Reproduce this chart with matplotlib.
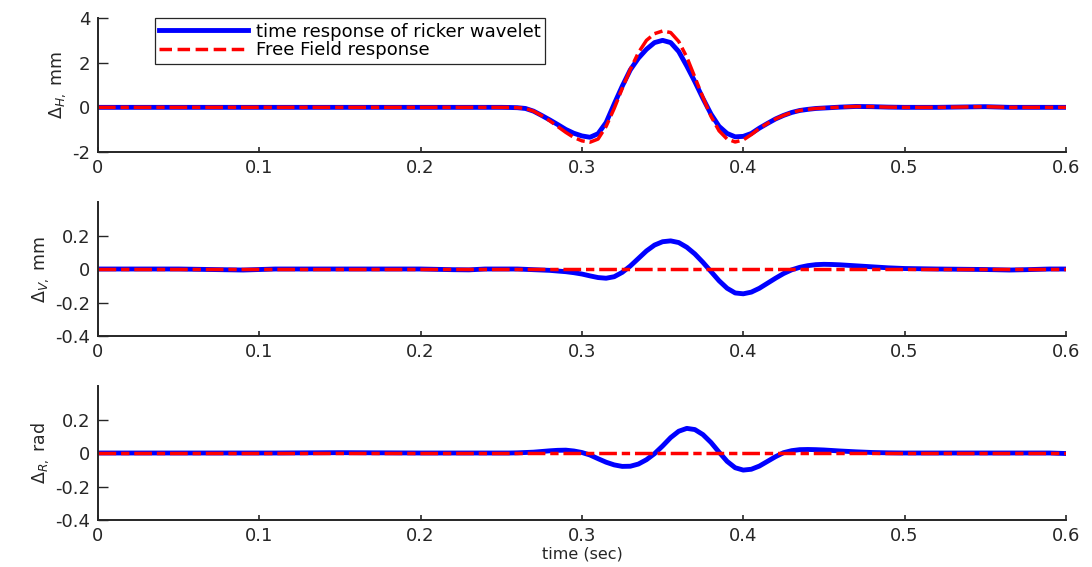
import matplotlib
matplotlib.use("Agg")
import matplotlib.pyplot as plt
from matplotlib.lines import Line2D
from matplotlib.ticker import FixedLocator, FixedFormatter

plt.rcParams["font.family"] = ["DejaVu Sans"]
plt.rcParams["mathtext.fontset"] = "dejavusans"
plt.rcParams["axes.unicode_minus"] = False

# ---- time axis (s) ----
t_sec = [0.00, 0.05, 0.09, 0.11, 0.15, 0.20, 0.22, 0.23, 0.24,
         0.250, 0.255, 0.260, 0.265, 0.270, 0.275, 0.280, 0.285, 0.290, 0.295,
         0.300, 0.305, 0.310, 0.315, 0.320, 0.325, 0.330, 0.335, 0.340, 0.345,
         0.350, 0.355, 0.360, 0.365, 0.370, 0.375, 0.380, 0.385, 0.390, 0.395,
         0.400, 0.405, 0.410, 0.415, 0.420, 0.425, 0.430, 0.435, 0.440, 0.445,
         0.450, 0.455, 0.460,
         0.470, 0.480, 0.490, 0.500, 0.520, 0.540, 0.550, 0.565, 0.575, 0.590, 0.600]

# ---- horizontal displacement (mm) ----
dh_wavelet = [0, 0, 0, 0, 0, 0, 0, 0, 0,
              0, -0.005, -0.015, -0.05, -0.17, -0.36, -0.56, -0.77, -0.99, -1.16,
              -1.28, -1.34, -1.18, -0.68, 0.15, 0.95, 1.68, 2.2, 2.6, 2.9,
              3.0, 2.9, 2.5, 1.85, 1.15, 0.4, -0.3, -0.85, -1.17, -1.32,
              -1.3, -1.17, -0.93, -0.72, -0.52, -0.36, -0.23, -0.14, -0.09, -0.05,
              -0.03, -0.01, 0.01,
              0.04, 0.03, 0.01, 0, 0, 0.02, 0.03, 0, 0, 0, 0]
dh_freefield = [0, 0, 0, 0, 0, 0, 0, 0, 0,
                0, -0.005, -0.015, -0.05, -0.17, -0.37, -0.6, -0.86, -1.12, -1.35,
                -1.5, -1.56, -1.42, -0.85, -0.05, 0.85, 1.7, 2.45, 3.0, 3.3,
                3.42, 3.35, 2.95, 2.25, 1.35, 0.45, -0.4, -1.05, -1.42, -1.55,
                -1.46, -1.22, -0.94, -0.72, -0.52, -0.36, -0.23, -0.14, -0.09, -0.05,
                -0.03, -0.01, 0.01,
                0.04, 0.03, 0.01, 0, 0, 0.02, 0.03, 0, 0, 0, 0]

# ---- vertical displacement (mm) ----
dv_wavelet = [0, 0, -0.006, 0, 0, 0, -0.004, -0.005, 0,
              0, 0, 0, -0.002, -0.004, -0.006, -0.008, -0.012, -0.016, -0.022,
              -0.03, -0.041, -0.051, -0.055, -0.046, -0.02, 0.018, 0.063, 0.108, 0.143,
              0.163, 0.168, 0.158, 0.13, 0.09, 0.04, -0.015, -0.07, -0.115, -0.143,
              -0.148, -0.138, -0.115, -0.085, -0.055, -0.027, -0.005, 0.01, 0.02, 0.026,
              0.028, 0.027, 0.025,
              0.019, 0.013, 0.007, 0.003, 0, -0.002, -0.003, -0.006, -0.004, 0, 0]

# ---- rocking (rad) ----
dr_wavelet = [0, 0, 0, 0, 0.002, 0, 0, 0, 0,
              0, 0, 0.001, 0.003, 0.005, 0.009, 0.013, 0.016, 0.017, 0.012,
              0.003, -0.012, -0.034, -0.055, -0.071, -0.08, -0.079, -0.066, -0.04, -0.004,
              0.042, 0.092, 0.13, 0.147, 0.14, 0.11, 0.063, 0.005, -0.05, -0.088,
              -0.102, -0.097, -0.078, -0.05, -0.022, 0.002, 0.014, 0.02, 0.021, 0.02,
              0.018, 0.015, 0.012,
              0.007, 0.003, 0.001, 0, 0, 0, 0, 0, 0, 0, -0.003]

# free-field vertical and rocking responses stay at zero
ff_time = [0.0, 0.6]
dv_freefield = [0.0, 0.0]
dr_freefield = [0.0, 0.0]

x_ticks = [0, 0.1, 0.2, 0.3, 0.4, 0.5, 0.6]
x_tick_labels = ["0", "0.1", "0.2", "0.3", "0.4", "0.5", "0.6"]
h_ticks = [-2, 0, 2, 4]
h_tick_labels = ["-2", "0", "2", "4"]
vr_ticks = [-0.4, -0.2, 0, 0.2]
vr_tick_labels = ["-0.4", "-0.2", "0", "0.2"]

legend_labels = ["time response of ricker wavelet", "Free Field response"]

BLUE = "#0000ff"
RED = "#ff0000"
INK = "#262626"
DASHDOT = (0, (5.1, 1.4, 2.4, 1.4))

fig = plt.figure(figsize=(10.92, 5.67), dpi=100)

panels = [
    dict(rect=[0.0897, 0.7319, 0.8864, 0.2363], tw=t_sec, yw=dh_wavelet,
         tf=t_sec, yf=dh_freefield, ylim=(-2, 4), ticks=h_ticks,
         tlabels=h_tick_labels, ylabel=r"$\Delta_{H,}$ mm"),
    dict(rect=[0.0897, 0.4074, 0.8864, 0.2363], tw=t_sec, yw=dv_wavelet,
         tf=ff_time, yf=dv_freefield, ylim=(-0.4, 0.4), ticks=vr_ticks,
         tlabels=vr_tick_labels, ylabel=r"$\Delta_{V,}$ mm"),
    dict(rect=[0.0897, 0.0829, 0.8864, 0.2363], tw=t_sec, yw=dr_wavelet,
         tf=ff_time, yf=dr_freefield, ylim=(-0.4, 0.4), ticks=vr_ticks,
         tlabels=vr_tick_labels, ylabel=r"$\Delta_{R,}$ rad"),
]

axes = []
for p in panels:
    ax = fig.add_axes(p["rect"])
    ax.plot(p["tw"], p["yw"], color=BLUE, lw=3.5, solid_joinstyle="round")
    ax.plot(p["tf"], p["yf"], color=RED, lw=2.5, linestyle=DASHDOT)
    ax.set_xlim(0, 0.6)
    ax.set_ylim(*p["ylim"])
    ax.xaxis.set_major_locator(FixedLocator(x_ticks))
    ax.xaxis.set_major_formatter(FixedFormatter(x_tick_labels))
    ax.yaxis.set_major_locator(FixedLocator(p["ticks"]))
    ax.yaxis.set_major_formatter(FixedFormatter(p["tlabels"]))
    for side in ("top", "right"):
        ax.spines[side].set_visible(False)
    for side in ("left", "bottom"):
        ax.spines[side].set_linewidth(1.4)
        ax.spines[side].set_color(INK)
    ax.tick_params(axis="x", direction="in", length=3.6, width=1.2, pad=5,
                   labelsize=13, colors=INK)
    ax.tick_params(axis="y", direction="in", length=7, width=1.0, pad=5.5,
                   labelsize=13, colors=INK)
    ax.set_ylabel(p["ylabel"], fontsize=12.5, color=INK, labelpad=3)
    axes.append(ax)

axes[-1].set_xlabel("time (sec)", fontsize=11.5, color=INK, labelpad=1)

handles = [Line2D([], [], color=BLUE, lw=3.5),
           Line2D([], [], color=RED, lw=2.5, linestyle=(0, (3.6, 1.6)))]
leg = axes[0].legend(handles, legend_labels, loc="upper left",
                     bbox_to_anchor=(0.0589, 1.0), borderaxespad=0,
                     fontsize=13, frameon=True, fancybox=False, framealpha=1,
                     edgecolor=INK, borderpad=0.25, labelspacing=0.05,
                     handlelength=4.9, handletextpad=0.45)
leg.get_frame().set_linewidth(0.9)

fig.savefig("out.png", dpi=100)
